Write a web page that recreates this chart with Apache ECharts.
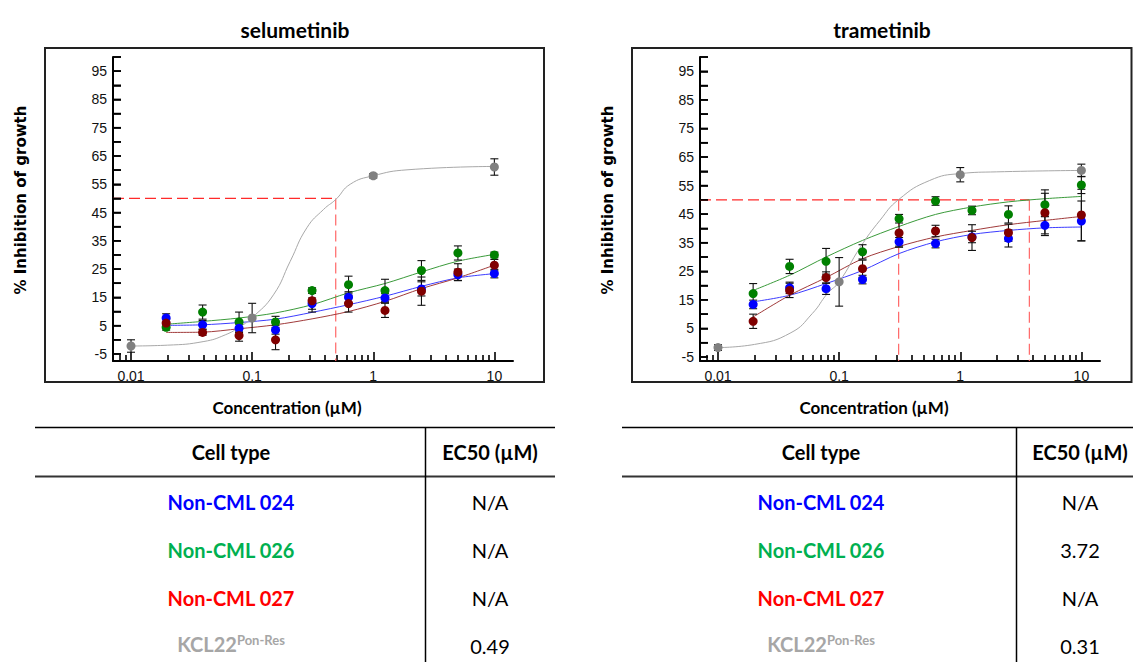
<!DOCTYPE html>
<html>
<head>
<meta charset="utf-8">
<script src="https://cdn.jsdelivr.net/npm/echarts@6/dist/echarts.min.js"></script>
<style>
html,body{margin:0;padding:0;background:#fff;}
#main{width:1133px;height:662px;}
</style>
</head>
<body>
<div id="main"></div>
<script>
// ---------------- DATA ----------------
const drugs = ['selumetinib', 'trametinib'];
const conc = [0.0195, 0.039, 0.078, 0.156, 0.3125, 0.625, 1.25, 2.5, 5, 10];
const concKcl = [0.01, 0.1, 1, 10];

// selumetinib
const sel024 = [7.7, 5.3, 4.1, 3.5, 12.8, 15.0, 14.8, 18.0, 23.0, 23.4];
const sel024Err = [1.5, 1.5, 1.5, 1.5, 2, 2, 1.5, 2.5, 2, 1.5];
const sel026 = [4.4, 9.8, 6.3, 6.3, 17.4, 19.5, 17.4, 24.5, 30.7, 30.0];
const sel026Err = [1, 2.5, 3.5, 2, 1, 3, 4, 3.5, 2.5, 1];
const sel027 = [5.9, 2.6, 1.5, 0.0, 13.8, 12.8, 10.4, 17.2, 23.9, 26.4];
const sel027Err = [1.5, 1, 2, 3.5, 4, 3, 2.5, 5, 3, 2];
const selKcl = [-2.2, 7.7, 58.0, 61.1];
const selKclErr = [2.2, 5.2, 0.8, 2.9];
const selFit024 = [5.1, 5.3, 6.1, 7.3, 9.7, 12.4, 15.4, 18.9, 21.9, 23.4];
const selFit026 = [5.5, 6.5, 7.7, 9.5, 12.4, 16.6, 19.9, 24.0, 27.8, 30.2];
const selFit027 = [2.6, 2.7, 3.9, 5.3, 7.4, 10.0, 13.6, 18.1, 21.9, 26.4];
const selFitKclX = [0.01, 0.02, 0.04, 0.06, 0.08, 0.1, 0.15, 0.206, 0.283, 0.389, 0.49, 0.645, 1, 1.9, 10];
const selFitKcl = [-2.2, -1.9, -0.6, 1.75, 4.7, 7.8, 15.9, 27.7, 39.6, 46.1, 49.6, 55, 58, 60.1, 61.3];

// trametinib
const tra024 = [13.4, 19.2, 18.9, 22.1, 35.3, 34.7, 37.0, 36.5, 41.1, 42.6];
const tra024Err = [1.5, 2, 2, 1.5, 1.5, 1.5, 2, 3, 3, 7];
const tra026 = [17.2, 26.7, 28.5, 31.8, 43.4, 49.6, 46.3, 44.9, 48.3, 55.2];
const tra026Err = [3.5, 2.5, 4.5, 2.5, 1.5, 1.5, 1.5, 3, 4, 3];
const tra027 = [7.5, 18.3, 22.8, 25.9, 38.4, 39.1, 36.8, 38.5, 45.5, 44.7];
const tra027Err = [2.5, 2.5, 2, 3, 5, 2, 4.5, 3, 8, 9];
const traKcl = [-1.7, 21.3, 58.8, 60.3];
const traKclErr = [1, 8.5, 2.5, 2.2];
const traFit024 = [14.3, 16.6, 20.7, 25.3, 31.2, 35.3, 37.9, 39.3, 40.2, 40.5];
const traFit026 = [18.3, 23.6, 30.0, 35.8, 40.7, 44.9, 47.5, 49.3, 50.4, 51.2];
const traFit027 = [9.0, 16.6, 22.8, 29.4, 33.7, 37.0, 39.3, 41.3, 42.8, 44.2];
const traFitKclX = [0.01, 0.02, 0.04, 0.06, 0.08, 0.1, 0.15, 0.217, 0.31, 0.56, 1, 2, 10];
const traFitKcl = [-1.7, -0.6, 3.5, 10.2, 17.2, 21.3, 33.5, 42.8, 50.1, 56.8, 59.2, 59.8, 60.3];

// EC50 table
const cellTypes = ['Non-CML 024', 'Non-CML 026', 'Non-CML 027', 'KCL22'];
const cellSup = ['', '', '', 'Pon-Res'];
const selEC50 = [null, null, null, 0.49];
const traEC50 = [null, 3.72, null, 0.31];
const selEC50Text = ['N/A', 'N/A', 'N/A', '0.49'];
const traEC50Text = ['N/A', '3.72', 'N/A', '0.31'];
const ec50Level = 50;

// ticks
const xMajorTicks = [0.01, 0.1, 1, 10];
const xTickLabels = ['0.01', '0.1', '1', '10'];
const xMinorTicks = [0.008, 0.009, 0.02, 0.03, 0.04, 0.05, 0.06, 0.07, 0.08, 0.09,
  0.2, 0.3, 0.4, 0.5, 0.6, 0.7, 0.8, 0.9, 2, 3, 4, 5, 6, 7, 8, 9];
const yLabelTicks = [-5, 5, 15, 25, 35, 45, 55, 65, 75, 85, 95];
const yAllTicks = [-5, 0, 5, 10, 15, 20, 25, 30, 35, 40, 45, 50, 55, 60, 65, 70, 75, 80, 85, 90, 95, 100];

// ---------------- STYLE / LAYOUT ----------------
const xMin = 0.0071, xMax = 14.25;
const yMinL = -7.5, yMinR = -6.4, yMax = 100;
const colPt = { b: '#0000ff', g: '#008000', r: '#800000', k: '#808080' };
const colLn = { b: '#3c3cff', g: '#3a9a3a', r: '#a03a3a', k: '#a8a8a8' };
const tableColors = ['#0000ff', '#00b050', '#ff0000', '#a6a6a6'];

const chart = echarts.init(document.getElementById('main'), null, { renderer: 'svg' });

function fmtX(v) {
  const i = xMajorTicks.findIndex(t => Math.abs(Math.log10(t) - Math.log10(v)) < 1e-6);
  return i >= 0 ? xTickLabels[i] : '';
}

function xAxes(gi) {
  return [
    {
      type: 'log', gridIndex: gi, min: xMin, max: xMax, position: 'bottom',
      axisLine: { show: true, onZero: false, lineStyle: { color: '#000', width: 2 } },
      axisTick: { show: true, inside: true, interval: 0, length: 9, lineStyle: { color: '#000', width: 1.6 }, customValues: xMajorTicks },
      axisLabel: { show: true, interval: 0, customValues: xMajorTicks, formatter: fmtX, color: '#111', fontFamily: 'Liberation Sans', fontSize: 14, margin: 8 },
      splitLine: { show: false }, minorTick: { show: false }
    },
    {
      type: 'log', gridIndex: gi, min: xMin, max: xMax, position: 'bottom',
      axisLine: { show: false, onZero: false },
      axisTick: { show: true, inside: true, interval: 0, length: 6, lineStyle: { color: '#000', width: 1.6 }, customValues: xMinorTicks },
      axisLabel: { show: false },
      splitLine: { show: false }
    }
  ];
}
function yAxis(gi, ymin) {
  return {
    type: 'value', gridIndex: gi, min: ymin, max: yMax,
    axisLine: { show: true, onZero: false, lineStyle: { color: '#000', width: 2 } },
    axisTick: { show: true, inside: true, interval: 0, length: 8, lineStyle: { color: '#000', width: 1.6 }, customValues: yAllTicks },
    axisLabel: { show: true, interval: 0, customValues: yLabelTicks, color: '#111', fontFamily: 'Liberation Sans', fontSize: 14, margin: 6 },
    splitLine: { show: false }
  };
}

// y-axis tick marks as small rect symbols placed by the scales (left edge of plot)
function yTickSeries(xi, yi) {
  return {
    type: 'scatter', xAxisIndex: xi, yAxisIndex: yi, silent: true, clip: false, z: 10,
    symbol: 'rect', symbolSize: [8, 1.6], symbolOffset: [4, 0],
    itemStyle: { color: '#000', opacity: 1 },
    data: yAllTicks.map(v => [xMin, v])
  };
}

function errSeries(xi, yi, xs, ys, es) {
  return {
    type: 'custom', xAxisIndex: xi, yAxisIndex: yi, silent: true, z: 2,
    data: xs.map((c, i) => [c, ys[i], es[i]]),
    encode: { x: 0, y: 1 },
    renderItem: function (params, api) {
      const x = api.value(0), y = api.value(1), e = api.value(2);
      const p1 = api.coord([x, y + e]), p2 = api.coord([x, y - e]);
      const w = 4;
      const st = { stroke: '#111', lineWidth: 1.1 };
      return {
        type: 'group', children: [
          { type: 'line', shape: { x1: p1[0], y1: p1[1], x2: p2[0], y2: p2[1] }, style: st },
          { type: 'line', shape: { x1: p1[0] - w, y1: p1[1], x2: p1[0] + w, y2: p1[1] }, style: st },
          { type: 'line', shape: { x1: p2[0] - w, y1: p2[1], x2: p2[0] + w, y2: p2[1] }, style: st }
        ]
      };
    }
  };
}
function ptSeries(xi, yi, xs, ys, color, z) {
  return {
    type: 'scatter', xAxisIndex: xi, yAxisIndex: yi, symbol: 'circle', symbolSize: 9, z: z,
    itemStyle: { color: color, opacity: 1 }, silent: true,
    data: xs.map((c, i) => [c, ys[i]])
  };
}
function fitSeries(xi, yi, xs, ys, color, smooth) {
  return {
    type: 'line', xAxisIndex: xi, yAxisIndex: yi, symbol: 'none', smooth: smooth, z: 1, silent: true,
    lineStyle: { color: color, width: 1 },
    data: xs.map((c, i) => [c, ys[i]])
  };
}
function ecLines(xi, yi, ecs, ymin) {
  const vals = ecs.filter(v => v !== null);
  const out = [];
  const maxEc = Math.max.apply(null, vals);
  out.push({
    type: 'line', xAxisIndex: xi, yAxisIndex: yi, symbol: 'none', z: 1, silent: true,
    lineStyle: { color: '#ff2a2a', width: 1.2, type: [11, 5] },
    data: [[xMin, ec50Level], [maxEc, ec50Level]]
  });
  vals.forEach(v => {
    out.push({
      type: 'line', xAxisIndex: xi, yAxisIndex: yi, symbol: 'none', z: 1, silent: true,
      lineStyle: { color: '#ff6666', width: 1.2, type: [11, 5] },
      data: [[v, ec50Level], [v, ymin]]
    });
  });
  return out;
}

function chartSeries(xi, yi, d, ymin) {
  return [].concat(
    ecLines(xi, yi, d.ec, ymin),
    [
      yTickSeries(xi, yi),
      fitSeries(xi, yi, conc, d.f026, colLn.g, 0.3),
      fitSeries(xi, yi, conc, d.f024, colLn.b, 0.3),
      fitSeries(xi, yi, conc, d.f027, colLn.r, 0.3),
      fitSeries(xi, yi, d.fkx, d.fk, colLn.k, true),
      errSeries(xi, yi, conc, d.v026, d.e026),
      errSeries(xi, yi, conc, d.v024, d.e024),
      errSeries(xi, yi, conc, d.v027, d.e027),
      errSeries(xi, yi, concKcl, d.vk, d.ek),
      ptSeries(xi, yi, conc, d.v026, colPt.g, 3),
      ptSeries(xi, yi, conc, d.v024, colPt.b, 4),
      ptSeries(xi, yi, conc, d.v027, colPt.r, 5),
      ptSeries(xi, yi, concKcl, d.vk, colPt.k, 6)
    ]
  );
}

const selData = { ec: selEC50, f024: selFit024, f026: selFit026, f027: selFit027, fkx: selFitKclX, fk: selFitKcl,
  v024: sel024, e024: sel024Err, v026: sel026, e026: sel026Err, v027: sel027, e027: sel027Err, vk: selKcl, ek: selKclErr };
const traData = { ec: traEC50, f024: traFit024, f026: traFit026, f027: traFit027, fkx: traFitKclX, fk: traFitKcl,
  v024: tra024, e024: tra024Err, v026: tra026, e026: tra026Err, v027: tra027, e027: tra027Err, vk: traKcl, ek: traKclErr };

// ---------------- GRAPHICS (frames, titles, names, tables) ----------------
const OFF = 587;
const graphics = [];
const fontUI = 'Lato, "Open Sans", sans-serif';
function txt(x, y, text, opt) {
  graphics.push({
    type: 'text', x: x, y: y, silent: true, rotation: opt.rotation || 0,
    style: Object.assign({ text: text, align: 'center', verticalAlign: 'middle', fill: '#000',
      fontFamily: fontUI, fontSize: 20, fontWeight: 'normal' }, opt.style || {})
  });
}
function hline(x1, x2, y, w, c) {
  graphics.push({ type: 'line', silent: true, shape: { x1: x1, y1: y, x2: x2, y2: y }, style: { stroke: c || '#000', lineWidth: w } });
}
function vline(x, y1, y2, w, c) {
  graphics.push({ type: 'line', silent: true, shape: { x1: x, y1: y1, x2: x, y2: y2 }, style: { stroke: c || '#000', lineWidth: w } });
}

[0, 1].forEach(k => {
  const dx = k * OFF;
  graphics.push({ type: 'rect', silent: true, shape: { x: 45 + dx, y: 48, width: 499 + (k ? 0.5 : 0), height: 334 },
    style: { fill: 'none', stroke: '#222', lineWidth: 2 } });
  txt(295 + dx, 29, drugs[k], { style: { fontWeight: 'bold', fontSize: 21 } });
  txt(287 + dx, 407, 'Concentration (µM)', { style: { fontWeight: 'bold', fontSize: 17 } });
  txt(20.5 + dx, 200, '% Inhibition of growth', { rotation: Math.PI / 2,
    style: { fontWeight: 'bold', fontSize: 15, fontFamily: '"DejaVu Sans", sans-serif' } });

  const tx0 = 35 + dx, tx1 = k ? 1133 : 555;
  const vX = k ? 1016.5 : 425.5;
  hline(tx0, tx1, 427.5, 1.5, '#000');
  hline(tx0, tx1, 476.5, 2, '#333');
  vline(vX, 427.5, 662, 1.5, '#000');
  const cx = k ? 821 : 231;
  const ex = k ? 1080 : 490;
  txt(cx, 452, 'Cell type', { style: { fontWeight: 'bold' } });
  txt(ex, 452, 'EC50 (µM)', { style: { fontWeight: 'bold' } });
  const rowsY = [501.5, 549.5, 597.5, 645.5];
  const texts = k ? traEC50Text : selEC50Text;
  cellTypes.forEach((name, i) => {
    if (cellSup[i]) {
      graphics.push({
        type: 'text', x: cx, y: rowsY[i] - 2, silent: true,
        style: {
          text: '{a|' + name + '}{b|' + cellSup[i] + '}', align: 'center', verticalAlign: 'middle',
          rich: {
            a: { fontFamily: fontUI, fontSize: 20, fontWeight: 'bold', fill: tableColors[i], color: tableColors[i] },
            b: { fontFamily: fontUI, fontSize: 13, fontWeight: 'bold', fill: tableColors[i], color: tableColors[i], verticalAlign: 'top' }
          }
        }
      });
    } else {
      txt(cx, rowsY[i], name, { style: { fontWeight: 'bold', fill: tableColors[i] } });
    }
    txt(ex, rowsY[i], texts[i], {});
  });
});

const option = {
  animation: false,
  backgroundColor: '#fff',
  grid: [
    { left: 113, top: 57, width: 400, height: 304 },
    { left: 113 + OFF, top: 57, width: 400, height: 304 }
  ],
  xAxis: [].concat(xAxes(0), xAxes(1)),
  yAxis: [yAxis(0, yMinL), yAxis(1, yMinR)],
  series: [].concat(chartSeries(0, 0, selData, yMinL), chartSeries(2, 1, traData, yMinR)),
  graphic: graphics
};
chart.setOption(option);
</script>
</body>
</html>
